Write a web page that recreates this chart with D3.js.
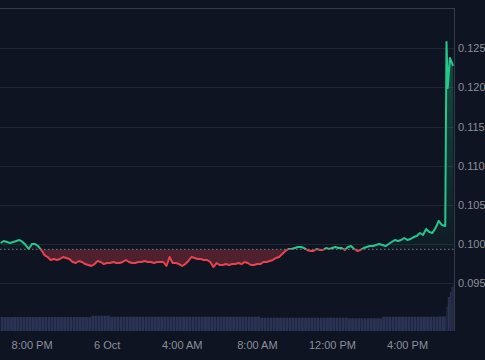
<!DOCTYPE html>
<html>
<head>
<meta charset="utf-8">
<script src="https://d3js.org/d3.v7.min.js"></script>
<style>
  body { margin: 0; background: #0e1421; }
  svg { display: block; }
  .tick text { font-family: "Liberation Sans", Arial, sans-serif; font-size: 11px; fill: #8b909c; }
</style>
</head>
<body>
<svg width="485" height="360"></svg>
<script>

// price every 10 minutes from 5 Oct 18:21
var price = [
  0.10013, 0.10038, 0.10026, 0.10013, 0.10026, 0.10038, 0.10051, 0.10026, 0.09987, 0.09936,
  0.10000, 0.10000, 0.09974, 0.09923, 0.09859, 0.09834, 0.09796, 0.09808, 0.09796, 0.09808,
  0.09834, 0.09821, 0.09808, 0.09770, 0.09757, 0.09783, 0.09770, 0.09744, 0.09732, 0.09719,
  0.09744, 0.09783, 0.09770, 0.09744, 0.09757, 0.09757, 0.09770, 0.09757, 0.09757, 0.09770,
  0.09796, 0.09770, 0.09757, 0.09757, 0.09770, 0.09770, 0.09783, 0.09770, 0.09770, 0.09757,
  0.09770, 0.09770, 0.09770, 0.09719, 0.09834, 0.09757, 0.09757, 0.09744, 0.09719, 0.09744,
  0.09783, 0.09834, 0.09821, 0.09808, 0.09808, 0.09796, 0.09796, 0.09770, 0.09706, 0.09757,
  0.09732, 0.09732, 0.09744, 0.09732, 0.09744, 0.09744, 0.09757, 0.09744, 0.09770, 0.09757,
  0.09732, 0.09732, 0.09744, 0.09744, 0.09770, 0.09770, 0.09783, 0.09796, 0.09821, 0.09834,
  0.09872, 0.09911, 0.09936, 0.09936, 0.09949, 0.09962, 0.09962, 0.09949, 0.09923, 0.09911,
  0.09911, 0.09936, 0.09923, 0.09923, 0.09949, 0.09936, 0.09949, 0.09962, 0.09949, 0.09949,
  0.09923, 0.09962, 0.09974, 0.09936, 0.09911, 0.09923, 0.09949, 0.09962, 0.09974, 0.09974,
  0.09987, 0.10000, 0.09987, 0.09974, 0.10000, 0.10026, 0.10051, 0.10038, 0.10051, 0.10077,
  0.10051, 0.10064, 0.10089, 0.10102, 0.10141, 0.10115, 0.10192, 0.10153, 0.10141, 0.10204,
  0.10294, 0.10243
];
var volume = [
  14, 14, 14, 14, 14, 14, 14, 14, 14, 14,
  14, 14, 14, 14, 14, 14, 14, 14, 14, 14,
  14, 14, 14, 14, 14, 14, 14, 14, 14, 15.3,
  15.3, 15.3, 15.3, 15.3, 15.3, 14.3, 14.3, 14.3, 14.3, 14.3,
  14.3, 14.3, 14.3, 14.3, 14.3, 14.3, 14.3, 14.3, 14.3, 14.3,
  14.3, 14.3, 14.3, 14.3, 14.3, 14.3, 14.3, 14.3, 14.3, 14.3,
  14.3, 14.3, 14.3, 14.3, 14.3, 14.3, 14.3, 14.3, 14.3, 14.3,
  14.3, 14.3, 14.3, 14.3, 14.3, 14.3, 14.3, 14.3, 14.3, 14.3,
  14.3, 14.3, 14.3, 13.3, 13.3, 13.3, 13.3, 13.3, 13.3, 13.3,
  13.3, 13.3, 13.3, 13.3, 13.3, 13.3, 13.3, 13.3, 13.3, 13.3,
  13.3, 13.3, 13.3, 13.3, 13.3, 13.3, 13.3, 13.3, 13.3, 13.3,
  13.3, 12.7, 12.7, 12.7, 12.7, 12.7, 12.7, 12.7, 12.7, 12.7,
  12.7, 12.7, 14.3, 14.3, 14.3, 14.3, 14.3, 14.3, 14.3, 14.3,
  14.3, 14.3, 14.3, 14.3, 14.3, 14.3, 14.3, 14.3, 14.3, 14.3,
  14.6, 14.6
];
// last few minutes (offset in minutes from start), price, volume
var tailMinutes = [1421, 1425, 1429, 1436, 1441, 1446];
var tailPrice = [0.10230, 0.12582, 0.11994, 0.12377, 0.12326, 0.12275];
var tailVolume = [14.7, 24, 34, 39, 44, 46];

var baseline = 0.09932;
var yTicks = [0.095, 0.100, 0.105, 0.110, 0.115, 0.120, 0.125];
var xTicks = [
  new Date(2024, 9, 5, 20), new Date(2024, 9, 6, 0), new Date(2024, 9, 6, 4),
  new Date(2024, 9, 6, 8), new Date(2024, 9, 6, 12), new Date(2024, 9, 6, 16)
];

var start = new Date(2024, 9, 5, 18, 21);
var data = price.map(function(p, i) {
  return { t: d3.timeMinute.offset(start, i * 10), p: p, v: volume[i] };
});
tailMinutes.forEach(function(m, i) {
  data.push({ t: d3.timeMinute.offset(start, m), p: tailPrice[i], v: tailVolume[i] });
});

var svg = d3.select("svg"),
    plotR = 454, plotT = 8, plotB = 331;

svg.append("rect").attr("width", 485).attr("height", 360).attr("fill", "#0e1421");

var x = d3.scaleTime()
    .domain([new Date(2024, 9, 5, 18, 19), new Date(2024, 9, 6, 18, 30)])
    .range([0, plotR]);

var y = d3.scaleLinear()
    .domain([0.088886, 0.130149])
    .range([plotB, plotT]);

var yVol = d3.scaleLinear().domain([0, 50]).range([plotB, plotB - 50]);

// grid
svg.append("g")
  .selectAll("line")
  .data(yTicks)
  .enter().append("line")
    .attr("x1", 0).attr("x2", plotR)
    .attr("y1", function(d) { return Math.round(y(d)) + 0.5; })
    .attr("y2", function(d) { return Math.round(y(d)) + 0.5; })
    .attr("stroke", "#1f2634");

// volume bars
var step = x(d3.timeMinute.offset(start, 10)) - x(start);
svg.append("g")
  .selectAll("rect")
  .data(data)
  .enter().append("rect")
    .attr("x", function(d, i) {
      var nx = i < data.length - 1 ? x(data[i + 1].t) : plotR;
      return x(d.t);
    })
    .attr("width", function(d, i) {
      var nx = i < data.length - 1 ? x(data[i + 1].t) : plotR - 0.5;
      return Math.max(0.6, nx - x(d.t) - 0.25);
    })
    .attr("y", function(d) { return yVol(d.v); })
    .attr("height", function(d) { return plotB - yVol(d.v); })
    .attr("fill", "#2a3354");

// fills
var defs = svg.append("defs");
var grad = defs.append("linearGradient")
    .attr("id", "upFill")
    .attr("gradientUnits", "userSpaceOnUse")
    .attr("x1", 0).attr("x2", 0)
    .attr("y1", y(0.126)).attr("y2", y(baseline));
grad.append("stop").attr("offset", 0).attr("stop-color", "#23c98a").attr("stop-opacity", 0.32);
grad.append("stop").attr("offset", 1).attr("stop-color", "#23c98a").attr("stop-opacity", 0.04);

defs.append("clipPath").attr("id", "clipUp")
  .append("rect").attr("x", 0).attr("y", 0).attr("width", plotR).attr("height", y(baseline));
defs.append("clipPath").attr("id", "clipDown")
  .append("rect").attr("x", 0).attr("y", y(baseline)).attr("width", plotR).attr("height", plotB - y(baseline));

var area = d3.area()
    .x(function(d) { return x(d.t); })
    .y0(y(baseline))
    .y1(function(d) { return y(d.p); });

var line = d3.line()
    .x(function(d) { return x(d.t); })
    .y(function(d) { return y(d.p); });

svg.append("path").datum(data).attr("d", area)
    .attr("fill", "url(#upFill)").attr("clip-path", "url(#clipUp)");
svg.append("path").datum(data).attr("d", area)
    .attr("fill", "#e8434f").attr("fill-opacity", 0.3).attr("clip-path", "url(#clipDown)");

// baseline
svg.append("line")
    .attr("x1", 0).attr("x2", plotR)
    .attr("y1", y(baseline)).attr("y2", y(baseline))
    .attr("stroke", "#737a87").attr("stroke-dasharray", "1.5,2.5");

svg.append("path").datum(data).attr("d", line)
    .attr("fill", "none").attr("stroke", "#23c98a").attr("stroke-width", 2)
    .attr("stroke-linejoin", "round").attr("clip-path", "url(#clipUp)");
svg.append("path").datum(data).attr("d", line)
    .attr("fill", "none").attr("stroke", "#e8434f").attr("stroke-width", 2)
    .attr("stroke-linejoin", "round").attr("clip-path", "url(#clipDown)");

// frame
svg.append("line").attr("x1", 0).attr("x2", plotR + 0.5).attr("y1", plotT + 0.5).attr("y2", plotT + 0.5)
    .attr("stroke", "#363c4a");
svg.append("line").attr("x1", plotR + 0.5).attr("x2", plotR + 0.5).attr("y1", plotT).attr("y2", plotB)
    .attr("stroke", "#363c4a");

// axes
var yAxis = d3.axisRight(y).tickValues(yTicks).tickSize(0).tickPadding(4)
    .tickFormat(d3.format(".3f"));
svg.append("g").attr("transform", "translate(" + plotR + ",0)").call(yAxis)
    .call(function(g) { g.select(".domain").remove(); });

var fmt = d3.timeFormat("%-I:%M %p");
var xAxis = d3.axisBottom(x).tickValues(xTicks).tickSize(0).tickPadding(10)
    .tickFormat(function(d) { return d.getHours() === 0 ? d3.timeFormat("%-d %b")(d) : fmt(d); });
svg.append("g").attr("transform", "translate(0," + plotB + ")").call(xAxis)
    .call(function(g) { g.select(".domain").remove(); });

</script>
</body>
</html>
